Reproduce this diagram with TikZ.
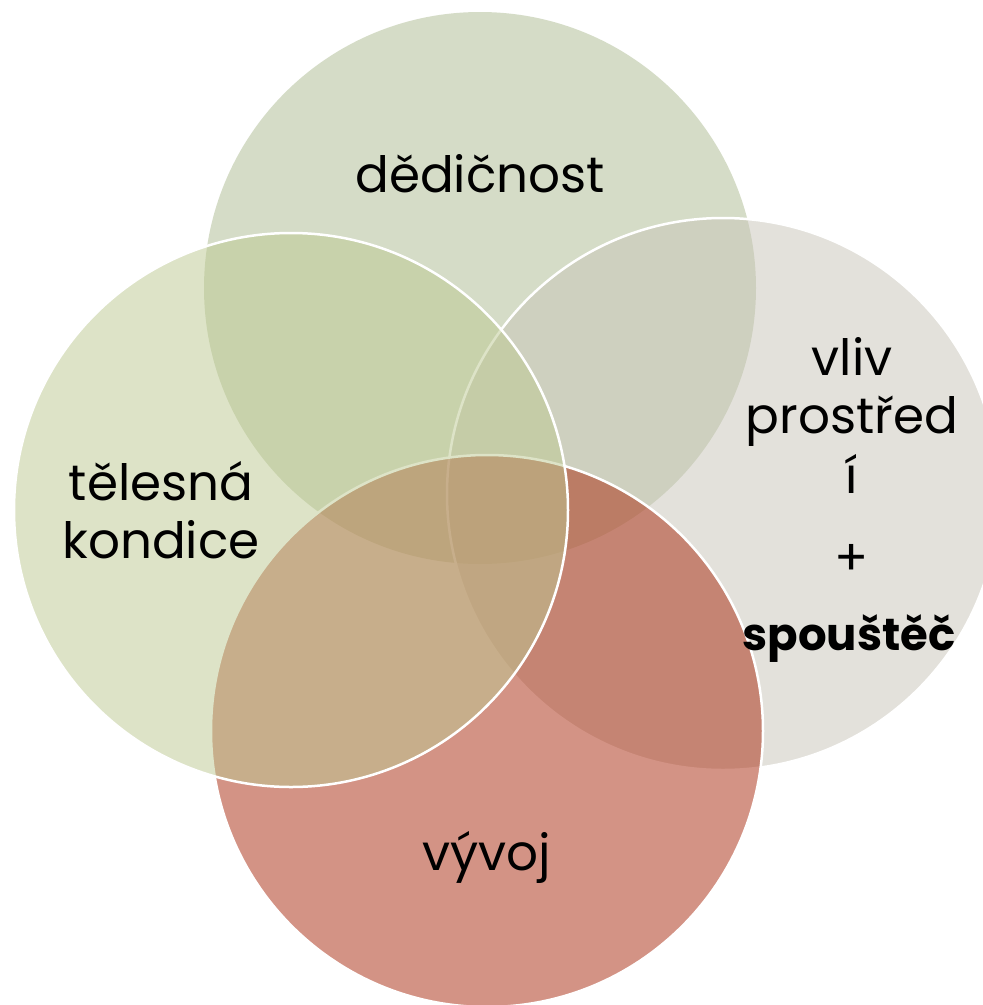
\documentclass[tikz,border=0pt]{standalone}
\usepackage{fontspec}
\setmainfont{Poppins}
\begin{document}
\begin{tikzpicture}[x=1pt,y=-1pt,
  venn/.style={fill opacity=0.5},
  ring/.style={draw=white,line width=2.5pt},
  lbl/.style={anchor=base,inner sep=0pt,font=\fontsize{50}{60}\selectfont,text=black}]
\useasboundingbox (0,0) rectangle (983,1005);
\clip (0,0) rectangle (983,1005);
\fill[white] (0,0) rectangle (983,1005);
% top: dedicnost
\fill[venn,fill={rgb,255:red,173;green,187;blue,145}] (480,288) circle (276);
% right: vliv prostredi
\fill[venn,fill={rgb,255:red,201;green,197;blue,185}] (723,494) circle (276);
\draw[ring] (723,494) circle (276);
% bottom: vyvoj
\fill[venn,fill={rgb,255:red,169;green,41;blue,13}] (487,731) circle (276);
\draw[ring] (487,731) circle (276);
% left: telesna kondice
\fill[venn,fill={rgb,255:red,189;green,201;blue,145}] (291,510) circle (277);
\draw[ring] (291,510) circle (277);
% labels
\node[lbl] (t1) at (480,192) {dědičnost};
\node[lbl] (r1) at (852,375) {vliv};
\node[lbl] (r2) at (852,433) {prostřed};
\node[lbl] (r3) at (852,493) {í};
\node[lbl] (r4) at (852,575) {+};
\node[lbl,font=\fontsize{45}{54}\selectfont\bfseries] (r5) at (849,650) {spouštěč};
\node[lbl] (l1) at (161,500) {tělesná};
\node[lbl] (l2) at (161,558) {kondice};
\node[lbl] (b1) at (487,870) {vývoj};
\end{tikzpicture}
\end{document}
